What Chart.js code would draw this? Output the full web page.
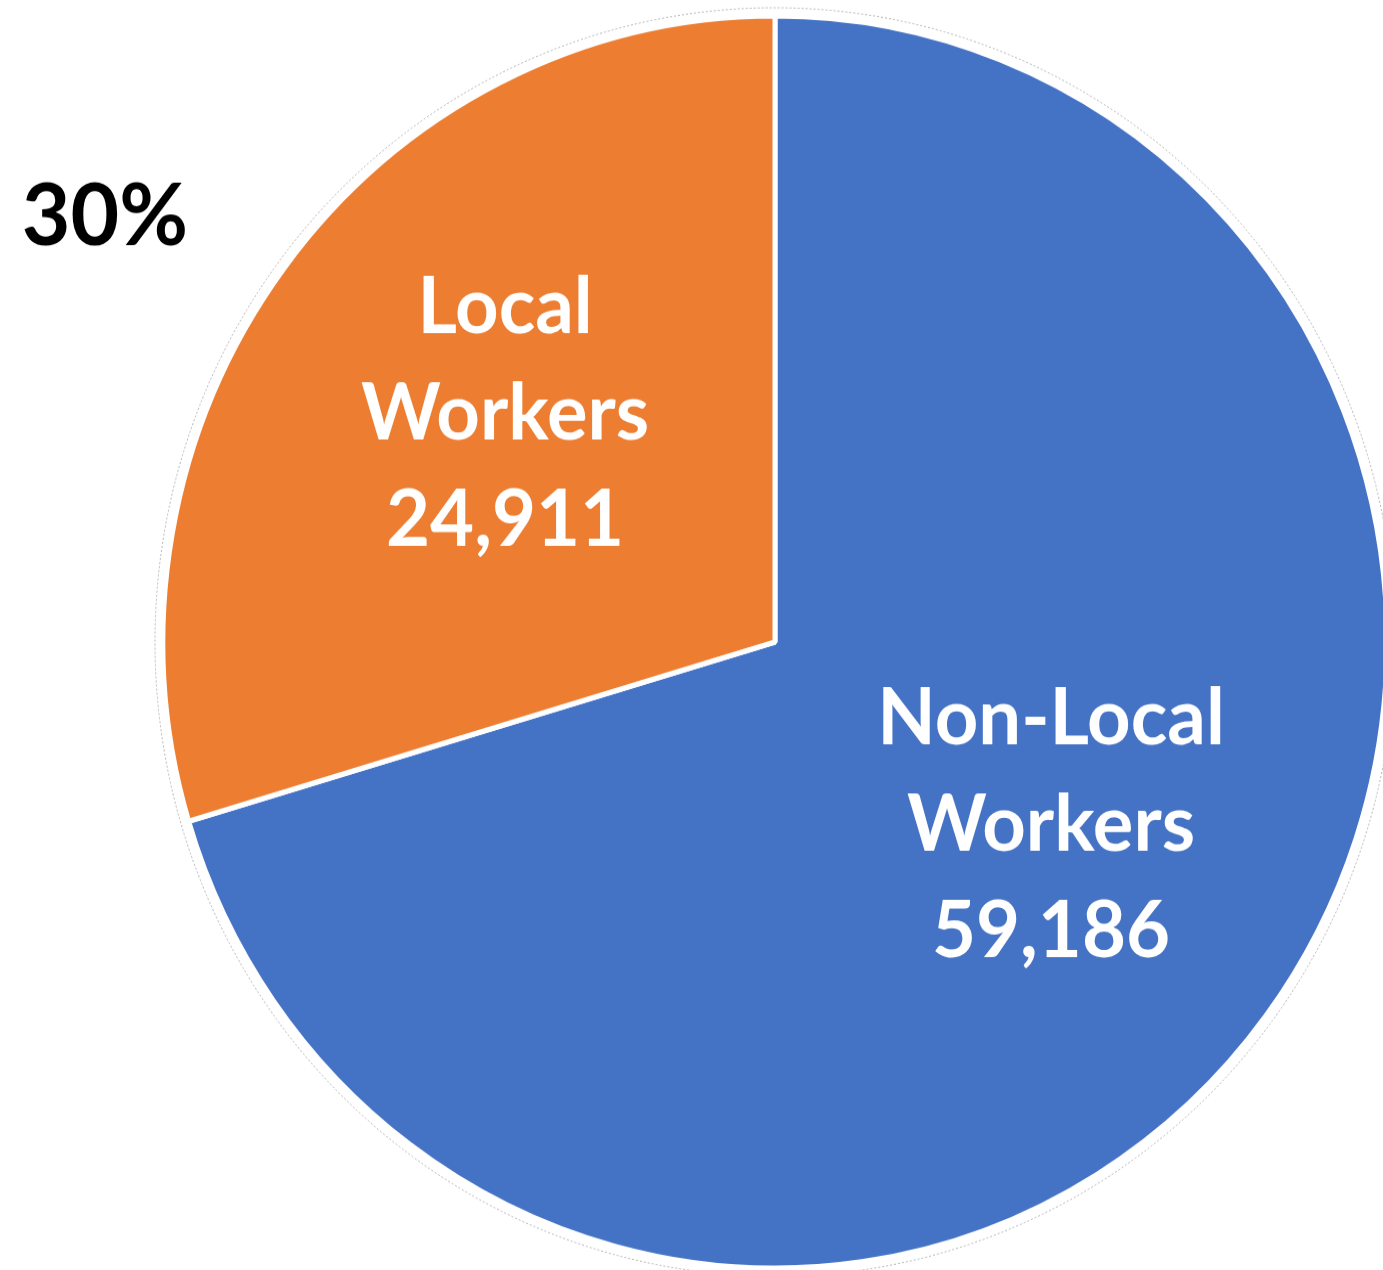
<!DOCTYPE html>
<html>
<head>
<meta charset="utf-8">
<script src="https://cdn.jsdelivr.net/npm/chart.js@4/dist/chart.umd.min.js"></script>
<style>
  html, body { margin: 0; padding: 0; background: #fff; }
  #wrap { position: relative; width: 1383px; height: 1270px; overflow: hidden; }
  /* the source pie is a touch taller than it is wide */
  #workersPie { transform: scaleY(1.023); transform-origin: 0 642px; }
</style>
</head>
<body>
<div id="wrap"><canvas id="workersPie"></canvas></div>
<script>
// data
const categories = ['Non-Local Workers', 'Local Workers'];
const labelLines = [['Non-Local', 'Workers'], ['Local', 'Workers']];
const workers = [59186, 24911];
const sliceColors = ['#4472C4', '#ED7D31'];
const pctSlice = 1; // the slice that gets the outside percent label

// label anchors relative to pie centre, in units of radius
const labelAnchors = [[0.451, 0.294], [-0.441, -0.363]];
const pctAnchor = [-1.095, -0.679];

const sliceLabels = {
    id: 'sliceLabels',
    afterDatasetsDraw(chart) {
        const ctx = chart.ctx;
        const arc = chart.getDatasetMeta(0).data[0];
        const cx = arc.x, cy = arc.y, r = arc.outerRadius;

        // faint outline ring round the pie
        ctx.save();
        ctx.strokeStyle = '#b4b4b4';
        ctx.lineWidth = 1;
        ctx.setLineDash([2, 2]);
        ctx.beginPath();
        ctx.arc(cx, cy, r + 8, 0, Math.PI * 2);
        ctx.stroke();
        ctx.restore();

        ctx.save();
        ctx.textAlign = 'center';
        ctx.textBaseline = 'middle';
        ctx.fillStyle = '#ffffff';
        ctx.font = 'bold 76px Lato';
        workers.forEach((v, i) => {
            const lines = labelLines[i].concat([v.toLocaleString('en-US')]);
            const x = cx + labelAnchors[i][0] * r;
            const y = cy + labelAnchors[i][1] * r;
            const lh = 104;
            lines.forEach((t, j) => {
                ctx.fillText(t, x, y + (j - 1) * lh);
            });
        });

        const total = workers.reduce((a, b) => a + b, 0);
        const pct = Math.round(workers[pctSlice] / total * 100) + '%';
        ctx.fillStyle = '#000000';
        ctx.font = 'bold 84px Lato';
        ctx.fillText(pct, cx + pctAnchor[0] * r, cy + pctAnchor[1] * r);
        ctx.restore();
    }
};

new Chart(document.getElementById('workersPie').getContext('2d'), {
    type: 'pie',
    data: {
        labels: categories,
        datasets: [{
            data: workers,
            backgroundColor: sliceColors,
            borderColor: '#ffffff',
            borderWidth: 5,
            hoverOffset: 0,
            radius: 612,
            clip: false
        }]
    },
    options: {
        responsive: true,
        maintainAspectRatio: false,
        animation: false,
        layout: { padding: { left: 167, right: 0, top: 14, bottom: 0 } },
        plugins: {
            legend: { display: false },
            tooltip: { enabled: false }
        }
    },
    plugins: [sliceLabels]
});
</script>
</body>
</html>
